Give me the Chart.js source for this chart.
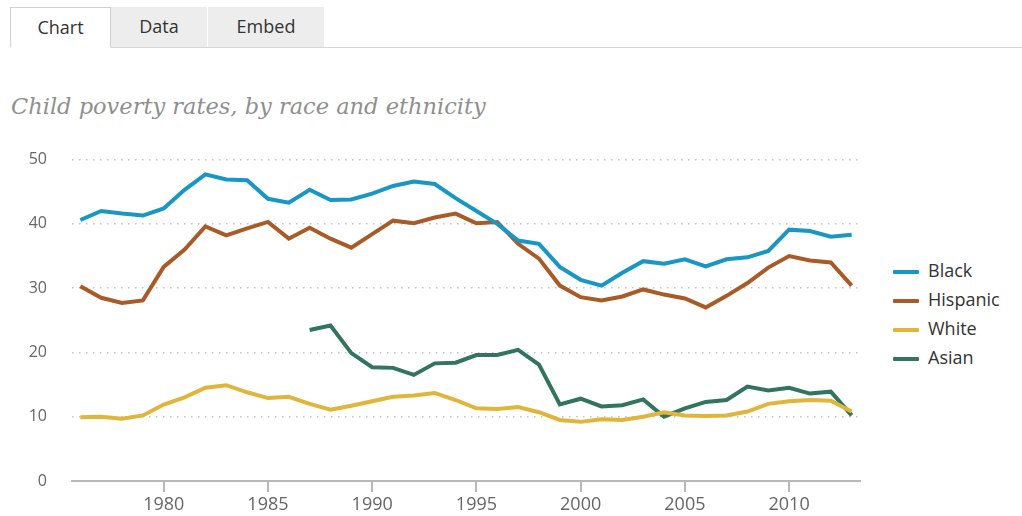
<!DOCTYPE html>
<html>
<head>
<meta charset="utf-8">
<script src="https://cdn.jsdelivr.net/npm/chart.js@4"></script>
<style>
  html, body { margin: 0; padding: 0; background: #fff; }
  body { width: 1022px; height: 516px; position: relative; overflow: hidden; font-family: "Open Sans", sans-serif; }
  .tabs { position: absolute; left: 10px; top: 7px; right: 0; height: 40px; border-bottom: 1px solid #d6d6d6; }
  .tab { position: absolute; top: 0; height: 40px; line-height: 38px; text-align: center; font-size: 18px; color: #333; background: #ededed; box-sizing: border-box; }
  .tab.active { background: #fff; border: 1px solid #d0d0d0; border-bottom: 1px solid #fff; height: 41px; }
  .title { position: absolute; left: 11px; top: 93px; font-family: "DejaVu Serif", serif; font-style: italic; font-size: 22.5px; color: #8f8f8f; white-space: nowrap; }
  #wrap { position: absolute; left: 0; top: 125px; width: 880px; height: 391px; }
  #legend { position: absolute; left: 893px; top: 257px; }
  .item { height: 29px; line-height: 26px; font-size: 18px; color: #333; white-space: nowrap; }
  .item span.sw { display: inline-block; width: 26px; height: 4px; margin-right: 9px; vertical-align: middle; border-radius: 1px; }
</style>
</head>
<body>
<div class="tabs">
  <div class="tab active" style="left:0;width:101px;">Chart</div>
  <div class="tab" style="left:101px;width:96px;">Data</div>
  <div class="tab" style="left:198px;width:116px;">Embed</div>
</div>
<div class="title">Child poverty rates, by race and ethnicity</div>
<div id="wrap"><canvas id="chart"></canvas></div>
<div id="legend"></div>
<script>
// ---- data ----
const years = [1976, 1977, 1978, 1979, 1980, 1981, 1982, 1983, 1984, 1985,
    1986, 1987, 1988, 1989, 1990, 1991, 1992, 1993, 1994, 1995,
    1996, 1997, 1998, 1999, 2000, 2001, 2002, 2003, 2004, 2005,
    2006, 2007, 2008, 2009, 2010, 2011, 2012, 2013];

const black = [40.6, 42.0, 41.6, 41.3, 42.4, 45.3, 47.7, 46.9, 46.8, 43.9,
    43.3, 45.3, 43.7, 43.8, 44.7, 45.9, 46.6, 46.2, 44.0, 42.0,
    40.0, 37.4, 36.9, 33.3, 31.3, 30.4, 32.4, 34.2, 33.8, 34.5,
    33.4, 34.5, 34.8, 35.8, 39.1, 38.9, 38.0, 38.3];

const hispanic = [30.3, 28.5, 27.7, 28.1, 33.3, 36.0, 39.6, 38.2, 39.3, 40.3,
    37.7, 39.4, 37.7, 36.3, 38.4, 40.5, 40.1, 41.0, 41.6, 40.1,
    40.3, 36.9, 34.6, 30.4, 28.6, 28.1, 28.7, 29.8, 29.0, 28.4,
    27.0, 28.8, 30.8, 33.2, 35.0, 34.3, 34.0, 30.4];

const white = [9.9, 10.0, 9.7, 10.2, 11.9, 13.0, 14.5, 14.9, 13.8, 12.9,
    13.1, 12.0, 11.1, 11.7, 12.4, 13.1, 13.3, 13.7, 12.6, 11.3,
    11.2, 11.5, 10.7, 9.5, 9.2, 9.6, 9.5, 10.0, 10.7, 10.2,
    10.1, 10.2, 10.8, 12.0, 12.4, 12.6, 12.5, 10.8];

const asian = [null, null, null, null, null, null, null, null, null, null,
    null, 23.5, 24.2, 19.9, 17.7, 17.6, 16.5, 18.3, 18.4, 19.6,
    19.6, 20.4, 18.1, 11.9, 12.8, 11.6, 11.8, 12.7, 10.0, 11.3,
    12.3, 12.6, 14.7, 14.1, 14.5, 13.6, 13.9, 10.2];

const seriesNames = ["Black", "Hispanic", "White", "Asian"];
const seriesColors = ["#1897c4", "#a95b27", "#dfb53b", "#32745e"];
const yTicks = [0, 10, 20, 30, 40, 50];
const xTicks = [1980, 1985, 1990, 1995, 2000, 2005, 2010];

// ---- chart ----
const allValues = [black, hispanic, white, asian];
const datasets = seriesNames.map((name, i) => ({
    label: name,
    data: years.map((yr, j) => ({ x: yr, y: allValues[i][j] })),
    borderColor: seriesColors[i],
    backgroundColor: seriesColors[i],
    borderWidth: 4,
    pointRadius: 0,
    tension: 0,
    spanGaps: false,
    fill: false,
}));

const ctx = document.getElementById("chart").getContext("2d");
new Chart(ctx, {
    type: "line",
    data: { datasets },
    options: {
        responsive: true,
        maintainAspectRatio: false,
        animation: false,
        layout: { padding: { left: 0, right: 20, top: 0, bottom: 0 } },
        plugins: { legend: { display: false }, tooltip: { enabled: false } },
        scales: {
            x: {
                type: "linear",
                min: 1975.6,
                max: 2013.4,
                afterBuildTicks: (axis) => {
                    axis.ticks = xTicks.map((v) => ({ value: v }));
                },
                afterFit: (scale) => { scale.height = 35; },
                grid: {
                    drawOnChartArea: false,
                    drawTicks: true,
                    tickLength: 11,
                    color: "#b8b8b8",
                    lineWidth: 2,
                },
                border: { display: true, color: "#b8b8b8", width: 2 },
                ticks: {
                    color: "#666",
                    font: { family: "Open Sans", size: 18 },
                    padding: 2,
                    maxRotation: 0,
                    callback: (v) => String(v),
                },
            },
            y: {
                min: 0,
                max: 50,
                afterBuildTicks: (axis) => {
                    axis.ticks = yTicks.map((v) => ({ value: v }));
                },
                afterFit: (scale) => { scale.width = 72; },
                grid: {
                    drawTicks: false,
                    color: (c) => (c.tick && c.tick.value === 0 ? "rgba(0,0,0,0)" : "#c4c4c4"),
                    lineWidth: 1.5,
                },
                border: { display: false, dash: [1.5, 5.5] },
                ticks: {
                    color: "#666",
                    font: { family: "Open Sans", size: 16 },
                    padding: 25,
                },
            },
        },
    },
});

// ---- legend ----
document.getElementById("legend").innerHTML = seriesNames.map((name, i) =>
    `<div class="item"><span class="sw" style="background:${seriesColors[i]}"></span>${name}</div>`
).join("");
</script>
</body>
</html>
